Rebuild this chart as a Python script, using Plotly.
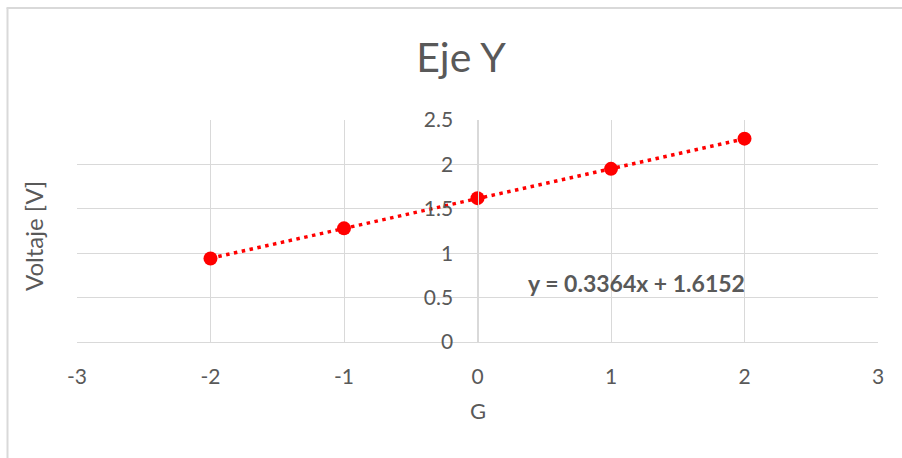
import plotly.graph_objects as go

# Measured voltage for each G setting
g_values = [-2, -1, 0, 1, 2]
voltaje = [0.94, 1.28, 1.62, 1.95, 2.29]

# Linear trendline coefficients
slope = 0.3364
intercept = 1.6152

x_ticks = [-3, -2, -1, 0, 1, 2, 3]
x_tick_text = ["-3", "-2", "-1", "0", "1", "2", "3"]
y_ticks = [0, 0.5, 1, 1.5, 2, 2.5]
y_tick_text = ["0", "0.5", "1", "1.5", "2", "2.5"]

TEXT = "#595959"
GRID = "#d9d9d9"
RED = "#ff0000"
FONT = "Lato, Carlito, sans-serif"

trend_x = [min(g_values), max(g_values)]
trend_y = [slope * x + intercept for x in trend_x]

fig = go.Figure()
fig.add_trace(go.Scatter(
    x=trend_x, y=trend_y, mode="lines",
    line=dict(color=RED, width=3.5, dash="3.5px,4.5px"),
    hoverinfo="skip", showlegend=False,
))
fig.add_trace(go.Scatter(
    x=g_values, y=voltaje, mode="markers",
    marker=dict(color=RED, size=14, line=dict(width=0)),
    showlegend=False,
))

W, H = 902, 458
L, R, T, B = 77, 24, 120, 116
PW, PH = W - L - R, H - T - B


def px_x(px):
    return (px - L) / PW


def px_y(py):
    return (H - B - py) / PH


fig.update_layout(
    width=W, height=H,
    margin=dict(l=L, r=R, t=T, b=B),
    paper_bgcolor="white", plot_bgcolor="white",
    font=dict(family=FONT, color=TEXT, size=21),
    title=dict(text="Eje Y", xref="container", x=461 / W, xanchor="center",
               y=1 - 58 / H, yanchor="middle",
               font=dict(family=FONT, size=41, color=TEXT)),
    xaxis=dict(
        range=[-3, 3], tickvals=x_ticks, ticktext=x_tick_text, showgrid=True,
        gridcolor=GRID, gridwidth=1.3, zeroline=False, showline=True,
        linecolor=GRID, linewidth=1.3,
        ticks="", ticklabelstandoff=16, tickfont=dict(size=21, color=TEXT),
        fixedrange=True,
    ),
    yaxis=dict(
        range=[0, 2.5], tickvals=y_ticks, ticktext=y_tick_text, showgrid=True,
        gridcolor=GRID, gridwidth=1.3, zeroline=False, showline=True,
        linecolor=GRID, linewidth=1.3, anchor="free", position=0.5,
        ticks="", ticklabelstandoff=20, tickfont=dict(size=21, color=TEXT),
        fixedrange=True,
    ),
    annotations=[
        dict(text="G", xref="paper", yref="paper", x=0.5, y=px_y(410),
             xanchor="center", yanchor="middle", showarrow=False,
             font=dict(size=22, color=TEXT)),
        dict(text="Voltaje [V]", xref="paper", yref="paper",
             x=px_x(33), y=px_y(236),
             xanchor="center", yanchor="middle", textangle=-90, showarrow=False,
             font=dict(size=24, color=TEXT)),
        dict(text=f"<b>y = {slope}x + {intercept}</b>", x=1.19, y=0.67,
             xanchor="center", yanchor="middle", showarrow=False,
             font=dict(size=23, color=TEXT)),
    ],
    shapes=[
        # chart frame: left and top edges
        dict(type="line", xref="paper", yref="paper",
             x0=px_x(7.5), x1=px_x(7.5), y0=px_y(H + 2), y1=px_y(8),
             line=dict(color=GRID, width=2), layer="below"),
        dict(type="line", xref="paper", yref="paper",
             x0=px_x(6.5), x1=px_x(W + 2), y0=px_y(8), y1=px_y(8),
             line=dict(color=GRID, width=2), layer="below"),
    ],
)

fig.write_html("out.html")
